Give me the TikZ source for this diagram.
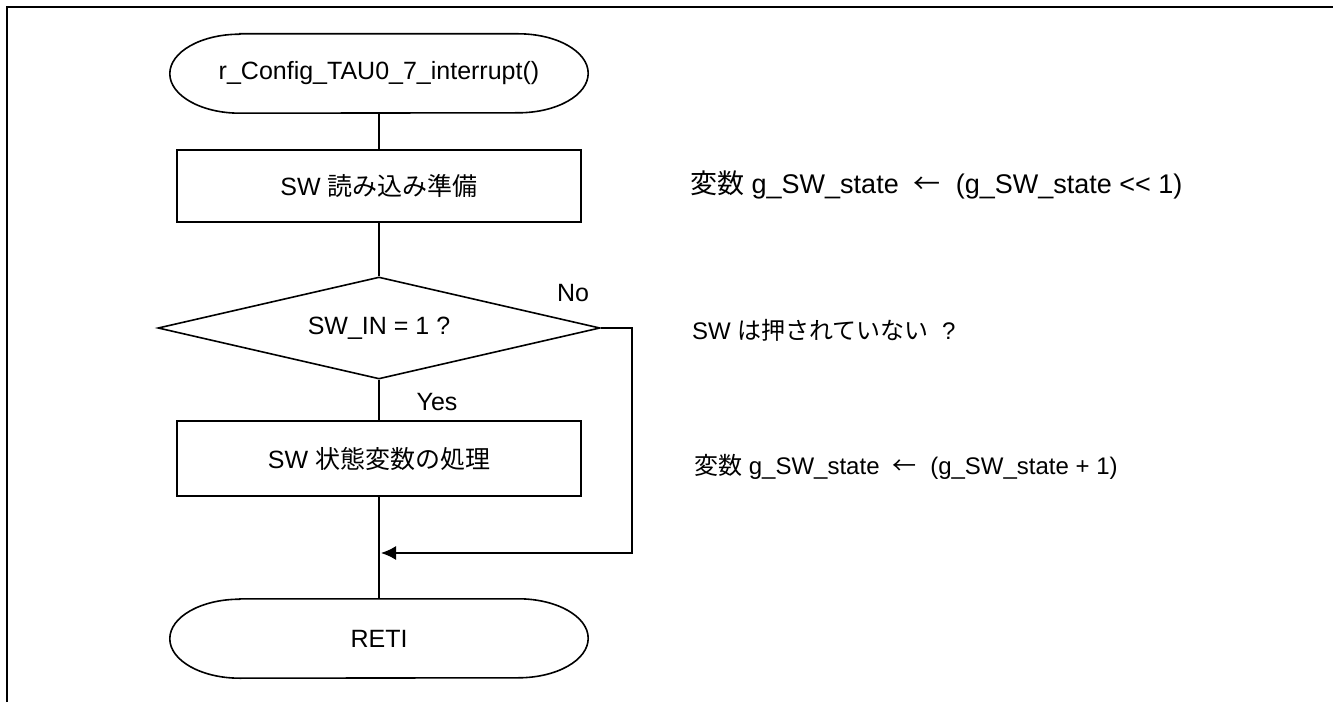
\documentclass[tikz,border=0pt]{standalone}
\usepackage{fontspec}
\setmainfont{Liberation Sans}
\newfontfamily\jp{Noto Sans CJK JP}
\usetikzlibrary{shapes.geometric,arrows.meta}
\tikzset{
  base/.style={font=\fontsize{25}{30}\selectfont, inner sep=0pt},
  conn/.style={line width=1.6pt},
  frameline/.style={line width=2.4pt},
  procbox/.style={base, draw, line width=1.6pt, minimum width=404pt},
  termnode/.style={base, minimum width=418pt, minimum height=79pt},
  decnode/.style={base, draw, diamond, line width=1.6pt, aspect=4.33, minimum width=442pt, minimum height=102pt},
  lab/.style={base},
  note/.style={anchor=west, inner sep=0pt},
  termoutline/.style={conn},
}
\begin{document}
\begin{tikzpicture}[x=1pt,y=1pt]
\useasboundingbox (0,0) rectangle (1333,702);
\draw[frameline] (7,0) -- (7,695) -- (1333,695);

\node[termnode] (t1) at (379,628.5) {r\_Config\_TAU0\_7\_interrupt()};
\node[procbox, minimum height=72pt] (b1) at (379,516) {SW {\jp 読み込み準備}};
\node[decnode] (d) at (379,374) {SW\_IN = 1 ?};
\node[procbox, minimum height=75pt] (b2) at (379,243.5) {SW {\jp 状態変数の処理}};
\node[termnode] (t2) at (379,63.5) {RETI};
\node[lab] (no) at (573,409) {No};
\node[lab] (yes) at (437,300) {Yes};

\foreach \t in {t1,t2}{
  \draw[termoutline] ([xshift=70pt]\t.north west) -- ([xshift=-70pt]\t.north east)
    arc[start angle=90, end angle=-90, x radius=70pt, y radius=39.5pt]
    -- ([xshift=70pt]\t.south west)
    arc[start angle=270, end angle=90, x radius=70pt, y radius=39.5pt] -- cycle;
}

\coordinate (c1) at (632,374);
\coordinate (c2) at (632,149);
\coordinate (m) at (381,149);

\draw[conn] (t1.south) -- (b1.north);
\draw[conn] (b1.south) -- (d.north);
\draw[conn] (d.south) -- (b2.north);
\draw[conn] (b2.south) -- (t2.north);
\draw[conn, -{Latex[length=15pt,width=14pt]}] (d.east) -- (c1) -- (c2) -- (m);

\node[note, font=\fontsize{27}{32}\selectfont] (n1) at (690,517) {{\jp 変数} g\_SW\_state\ \ {\jp ←}\ \ (g\_SW\_state <\kern0pt< 1)};
\node[note, font=\fontsize{24}{29}\selectfont] (n2) at (692,372) {SW {\jp は押されていない} \ ?};
\node[note, font=\fontsize{24}{29}\selectfont] (n3) at (694,235) {{\jp 変数} g\_SW\_state\ \ {\jp ←}\ \ (g\_SW\_state + 1)};
\end{tikzpicture}
\end{document}
